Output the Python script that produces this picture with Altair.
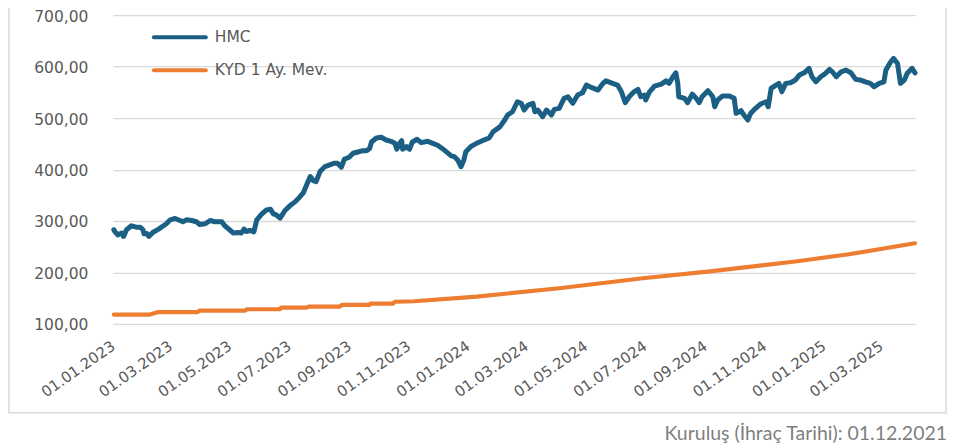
import altair as alt
import pandas as pd

# ---- data ----
series_names = ["HMC", "KYD 1 Ay. Mev."]
start_date = "2023-01-01"

# HMC: day offsets from 01.01.2023 and index values
hmc_days = [1, 2, 5, 9, 11, 14, 19, 24, 28, 31, 32, 35, 37, 41, 47, 52, 55, 59, 64, 69,
            72, 76, 81, 86, 89, 95, 100, 105, 112, 115, 120, 124, 129, 132, 135, 137, 141, 145, 148, 153,
            158, 162, 165, 168, 172, 177, 182, 187, 192, 196, 200, 203, 206, 209, 213, 218, 223, 228, 231, 235,
            238, 243, 247, 252, 257, 261, 264, 266, 271, 276, 281, 286, 290, 292, 295, 297, 298, 302, 305, 308,
            313, 317, 324, 329, 334, 339, 344, 348, 351, 355, 358, 361, 363, 368, 374, 380, 387, 391, 398, 403,
            406, 411, 416, 420, 423, 427, 432, 434, 437, 442, 446, 451, 454, 459, 464, 468, 473, 478, 483, 487,
            492, 499, 504, 507, 514, 519, 523, 527, 531, 536, 540, 543, 547, 548, 552, 557, 564, 569, 572, 576,
            579, 581, 582, 588, 591, 596, 600, 603, 606, 612, 617, 619, 622, 627, 634, 639, 641, 646, 649, 653,
            656, 661, 666, 672, 674, 677, 682, 685, 688, 692, 697, 702, 706, 711, 716, 719, 723, 728, 733, 737,
            740, 744, 749, 754, 759, 764, 769, 774, 779, 783, 788, 793, 795, 800, 803, 807, 810, 814, 817, 822,
            825]
hmc_values = [283.0, 279.6, 273.0, 276.5, 270.0, 283.0, 290.7, 288.0, 288.0, 283.0, 275.0, 275.5, 270.0, 277.7, 284.3, 290.7, 294.6, 302.3, 305.0, 301.0,
              298.5, 302.3, 301.0, 298.5, 293.3, 294.6, 301.0, 298.5, 298.5, 290.7, 283.0, 276.5, 277.7, 276.5, 284.3, 279.6, 281.6, 279.0, 302.3, 313.4,
              321.7, 323.0, 314.0, 312.0, 305.6, 320.4, 329.5, 336.7, 346.4, 355.3, 373.5, 386.4, 378.6, 376.6, 396.0, 405.7, 409.0, 412.3, 412.3, 404.6,
              420.0, 424.0, 431.7, 434.2, 436.8, 436.8, 440.6, 453.6, 461.4, 462.7, 457.5, 454.9, 451.0, 439.5, 451.0, 456.2, 439.5, 444.5, 439.5, 453.6,
              458.9, 452.3, 454.9, 451.0, 447.2, 440.6, 432.9, 426.5, 425.2, 417.4, 405.7, 418.7, 434.8, 444.5, 451.0, 456.2, 461.4, 473.6, 483.0, 496.3,
              506.0, 512.4, 531.8, 528.7, 515.7, 525.4, 528.7, 512.4, 515.7, 502.7, 515.7, 506.0, 517.0, 519.0, 538.4, 541.5, 528.7, 544.8, 549.3, 564.2,
              559.7, 554.5, 567.5, 572.5, 567.5, 564.2, 551.2, 529.9, 541.5, 551.2, 555.9, 541.5, 544.8, 535.1, 551.2, 562.3, 566.2, 572.5, 567.5, 580.4,
              588.1, 567.5, 541.5, 538.4, 529.9, 546.7, 538.4, 529.9, 541.5, 553.2, 541.5, 522.1, 535.1, 542.9, 542.9, 538.4, 509.3, 514.4, 506.0, 496.3,
              509.3, 519.0, 527.4, 531.8, 522.1, 557.8, 564.2, 567.5, 551.2, 567.5, 568.7, 574.0, 583.6, 588.1, 596.7, 580.4, 570.6, 580.4, 587.0, 594.7,
              590.0, 580.4, 590.0, 593.3, 588.1, 575.3, 574.0, 570.6, 567.5, 561.0, 567.5, 570.6, 593.3, 609.4, 616.0, 606.3, 567.5, 574.0, 587.0, 596.7,
              588.1]

# KYD 1 Ay. Mev.: day offsets and values (stepwise early on)
kyd_days = [1, 38, 46, 87, 89, 136, 138, 172, 173, 199, 202, 233, 236, 264, 265, 288, 290,
            310, 374, 459, 545, 614, 706, 757, 825]
kyd_values = [118.1, 118.1, 122.7, 122.7, 125.8, 125.8, 128.5, 128.5, 131.7, 131.7, 133.6, 133.6,
              136.9, 136.9, 139.4, 139.4, 143.0, 144.0, 153.0, 169.3, 188.7, 202.0, 222.3, 235.3, 256.7]

y_ticks = [100, 200, 300, 400, 500, 600, 700]
x_tick_months = [(2023, 1), (2023, 3), (2023, 5), (2023, 7), (2023, 9), (2023, 11),
                 (2024, 1), (2024, 3), (2024, 5), (2024, 7), (2024, 9), (2024, 11),
                 (2025, 1), (2025, 3)]
footnote = "Kuruluş (İhraç Tarihi): 01.12.2021"

colors = ["#1b5f84", "#ed7d31"]

# ---- build table ----
base_ts = pd.Timestamp(start_date)


def to_dates(days):
    return [(base_ts + pd.Timedelta(days=d)).strftime("%Y-%m-%d") for d in days]


df = pd.concat([
    pd.DataFrame({"date": to_dates(hmc_days), "value": hmc_values, "series": series_names[0], "order": range(len(hmc_days))}),
    pd.DataFrame({"date": to_dates(kyd_days), "value": kyd_values, "series": series_names[1], "order": range(len(kyd_days))}),
])

label_color = "#595959"
axis_font = "DejaVu Sans"

x_scale = alt.Scale(type="utc",
                    domain=[alt.DateTime(year=2023, month=1, date=1, utc=True),
                            alt.DateTime(year=2025, month=4, date=5, utc=True)])
x_values = [alt.DateTime(year=y, month=m, date=1, utc=True) for y, m in x_tick_months]

lines = alt.Chart(df).mark_line(strokeCap="round", strokeJoin="round").encode(
    x=alt.X("date:T", scale=x_scale, title=None,
            axis=alt.Axis(values=x_values, labelExpr="utcFormat(datum.value, '%d.%m.%Y')",
                          labelAngle=325, labelAlign="right", labelBaseline="middle",
                          labelPadding=20, ticks=False, tickSize=0, domain=False, grid=False,
                          labelFont=axis_font, labelFontSize=15, labelColor=label_color,
                          labelOverlap=False, labelBound=False, labelFlush=False)),
    y=alt.Y("value:Q", scale=alt.Scale(domain=[100, 700], nice=False, zero=False), title=None,
            axis=alt.Axis(values=y_ticks,
                          labelExpr="replace(format(datum.value, '.2f'), '.', ',')",
                          labelPadding=25, ticks=False, tickSize=0, domain=False,
                          grid=True, gridColor="#d9d9d9", gridWidth=1.3,
                          labelOffset=1, labelFlush=False, labelBound=False,
                          labelFont=axis_font, labelFontSize=15.5, labelColor=label_color)),
    color=alt.Color("series:N", scale=alt.Scale(domain=series_names, range=colors), legend=None),
    strokeWidth=alt.StrokeWidth("series:N", scale=alt.Scale(domain=series_names, range=[5, 4.2]), legend=None),
    order="order:Q",
)

one = alt.Data(values=[{}])

legend_layers = []
for i, (name, col) in enumerate(zip(series_names, colors)):
    ly = 22 + i * 33
    legend_layers.append(
        alt.Chart(one).mark_rule(color=col, strokeWidth=4, strokeCap="round").encode(
            x=alt.value(41), x2=alt.value(93), y=alt.value(ly)))
    legend_layers.append(
        alt.Chart(one).mark_text(text=name, align="left", baseline="middle", font=axis_font,
                                 fontSize=15.5, color=label_color).encode(
            x=alt.value(102), y=alt.value(ly)))

frame = alt.Chart(one).mark_rect(fill=None, stroke="#d9d9d9", strokeWidth=1.5).encode(
    x=alt.value(-104), x2=alt.value(834), y=alt.value(-30), y2=alt.value(398))

note = alt.Chart(one).mark_text(text=footnote, align="right", baseline="middle", font="Lato",
                                fontSize=19.5, color="#7f7f7f").encode(
    x=alt.value(835), y=alt.value(419))

chart = alt.layer(frame, lines, *legend_layers, note).properties(
    width=803, height=309,
    autosize=alt.AutoSizeParams(type="none"),
    padding={"left": 105, "top": 7, "right": 35, "bottom": 120},
    background="white",
).configure_view(stroke=None)

chart.save("out.html", embed_options={"renderer": "svg", "actions": False})
